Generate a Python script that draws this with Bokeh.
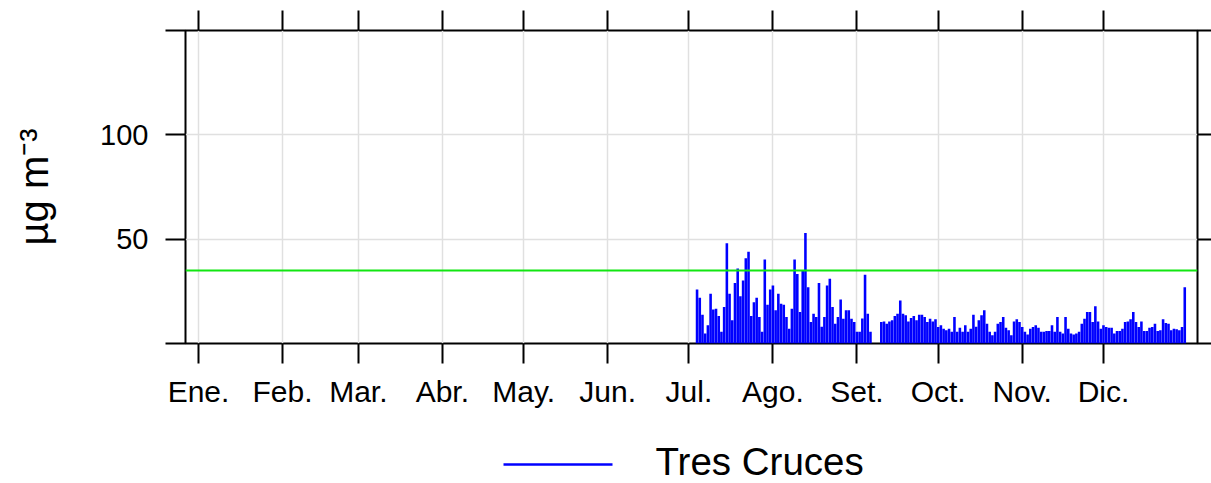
import pandas as pd
from bokeh.plotting import figure
from bokeh.layouts import column
from bokeh.core.properties import value
from bokeh.models import (ColumnDataSource, Range1d, LinearAxis, FixedTicker,
                          Grid, Span)
from bokeh.embed import file_html
from bokeh.resources import INLINE

# ---------------- data ----------------
year_start = "2018-01-01"
series_start = "2018-07-01"
series_end = "2018-12-31"
month_labels = ["Ene.", "Feb.", "Mar.", "Abr.", "May.", "Jun.",
                "Jul.", "Ago.", "Set.", "Oct.", "Nov.", "Dic."]
y_ticks = [0, 50, 100, 150]
y_labels = {0: "", 50: "50", 100: "100", 150: ""}
threshold = 35
series_name = "Tres Cruces"
unit_label = "µg m⁻³"

jul = [None, None, None, 25.9, 21.9, 13.8, 4.8, 8.7, 23.8, 16.3, 16.7, 13.2, 5.6,
       17.5, 48.1, 23.8, 11.1, 29.0, 36.0, 22.7, 30.2, 40.8, 44.0, 13.2, 19.8,
       21.9, 12.7, 5.6, 40.2, 18.6, 25.9]
ago = [27.8, 15.9, 23.8, 19.0, 18.6, 12.7, 7.1, 16.7, 40.2, 33.3, 15.1, 34.9,
       52.9, 27.0, 10.3, 14.3, 12.7, 29.0, 8.0, 12.7, 27.8, 31.0, 17.5, 9.5,
       12.7, 21.1, 11.9, 15.9, 15.9, 11.9, 10.3]
set_ = [5.6, 5.6, 12.0, 32.9, 14.3, 5.6, None, None, None, 10.3, 10.6, 9.5,
        10.6, 11.1, 13.2, 14.3, 20.6, 14.3, 13.5, 10.6, 12.2, 13.2, 11.1, 13.8,
        13.8, 12.7, 10.3, 11.9, 10.6, 11.6]
oct_ = [7.9, 8.7, 7.1, 6.4, 7.1, 5.6, 12.7, 5.6, 7.5, 5.6, 8.7, 5.6, 7.1, 13.8,
        8.0, 11.1, 13.5, 15.9, 9.5, 5.6, 4.0, 5.6, 9.5, 10.3, 12.7, 7.5, 6.4,
        4.0, 10.6, 11.6, 10.3]
nov = [7.9, 5.6, 4.3, 7.1, 7.9, 8.7, 7.5, 5.6, 5.6, 6.0, 6.0, 8.7, 5.6, 12.7,
       5.6, 4.8, 12.7, 7.1, 4.8, 4.3, 4.8, 5.6, 9.5, 11.9, 15.1, 15.1, 10.3,
       17.9, 10.6, 7.1]
dic = [8.7, 7.9, 7.5, 7.5, 4.8, 6.0, 6.0, 7.1, 10.3, 10.6, 11.6, 15.1, 10.3,
       7.9, 10.6, 6.0, 6.0, 7.5, 7.9, 9.5, 6.0, 6.4, 11.6, 9.8, 9.5, 6.4, 7.1,
       6.8, 6.4, 7.9, 27.0]

values = jul + ago + set_ + oct_ + nov + dic
t0 = pd.Timestamp(year_start)
dates = pd.date_range(series_start, series_end, freq="D")
day = (dates - t0).days.to_numpy()
df = pd.DataFrame({"day": day,
                   "val": pd.to_numeric(pd.Series(values), errors="coerce")}).dropna()
src = ColumnDataSource(df)

month_pos = [int(d) for d in (pd.date_range(year_start, periods=12, freq="MS") - t0).days]

# ---------------- main figure ----------------
FONT = "Liberation Sans"
SERIES_COLOR = "#0000FF"
p = figure(width=1211, height=410, output_backend="svg", toolbar_location=None,
           x_range=Range1d(-4.8, 368.7), y_range=Range1d(0, 150),
           x_axis_type=None, y_axis_type=None,
           min_border_left=185, min_border_top=30, min_border_right=14,
           min_border_bottom=65)
p.outline_line_color = "black"
p.outline_line_width = 2
p.background_fill_color = "white"
p.border_fill_color = "white"


def style_axis(ax, tick_out):
    ax.axis_line_color = None
    ax.major_tick_line_color = "black"
    ax.major_tick_line_width = 2
    ax.major_tick_in = 0
    ax.major_tick_out = tick_out
    ax.minor_tick_line_color = None
    ax.major_label_text_font = FONT
    ax.major_label_text_color = "black"


xt = FixedTicker(ticks=month_pos)
yt = FixedTicker(ticks=y_ticks)

bottom = LinearAxis(ticker=xt)
style_axis(bottom, 20)
bottom.major_label_overrides = {pos: lab for pos, lab in zip(month_pos, month_labels)}
bottom.major_label_text_font_size = "30px"
bottom.major_label_standoff = 11
p.add_layout(bottom, "below")

top = LinearAxis(ticker=xt)
style_axis(top, 20)
top.major_label_overrides = {pos: "" for pos in month_pos}
top.major_label_text_font_size = "0px"
top.major_label_standoff = 0
p.add_layout(top, "above")

left = LinearAxis(ticker=yt)
style_axis(left, 20)
left.major_label_overrides = y_labels
left.major_label_text_font_size = "29px"
left.major_label_standoff = 17
left.axis_label = unit_label
left.axis_label_text_font = FONT
left.axis_label_text_font_size = "40px"
left.axis_label_text_font_style = "normal"
left.axis_label_text_color = "black"
left.axis_label_standoff = 41
p.add_layout(left, "left")

right = LinearAxis(ticker=yt)
style_axis(right, 14)
right.major_label_overrides = {t: "" for t in y_ticks}
right.major_label_text_font_size = "0px"
right.major_label_standoff = 0
p.add_layout(right, "right")

p.add_layout(Grid(dimension=0, ticker=xt, grid_line_color="#E0E0E0", grid_line_width=1.5))
p.add_layout(Grid(dimension=1, ticker=yt, grid_line_color="#E0E0E0", grid_line_width=1.5))

p.vbar(x="day", top="val", bottom=0, width=0.95, source=src,
       fill_color=SERIES_COLOR, line_color=None)

p.add_layout(Span(location=threshold, dimension="width",
                  line_color="#11E611", line_width=2))

# ---------------- legend strip (pixel coordinates of the page) ----------------
LEG_TOP = 410
p2 = figure(width=1211, height=73, output_backend="svg", toolbar_location=None,
            x_range=Range1d(185, 1197), y_range=Range1d(483, LEG_TOP),
            x_axis_type=None, y_axis_type=None,
            min_border_left=185, min_border_right=14,
            min_border_top=0, min_border_bottom=0)
p2.outline_line_color = None
p2.background_fill_color = "white"
p2.border_fill_color = "white"
p2.segment(x0=[503], y0=[464], x1=[612], y1=[464],
           line_color=SERIES_COLOR, line_width=2.5)
p2.text(x=[655], y=[461], text=[series_name],
        text_font=value(FONT), text_font_size="38.5px",
        text_color="black", text_baseline="middle", text_align="left")

layout = column(p, p2, spacing=0)
open("out.html", "w").write(file_html(layout, INLINE))
